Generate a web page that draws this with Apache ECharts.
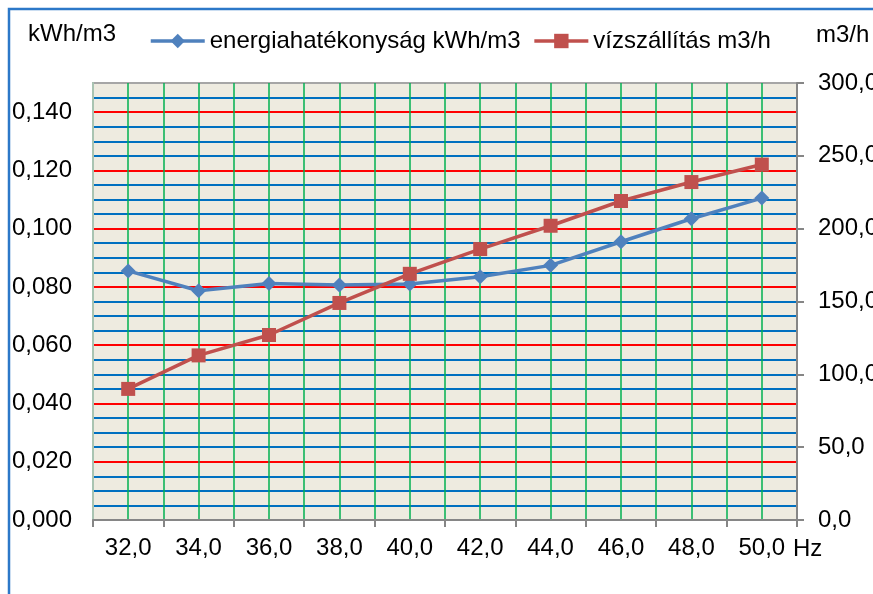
<!DOCTYPE html>
<html>
<head>
<meta charset="utf-8">
<script src="https://cdn.jsdelivr.net/npm/echarts@6/dist/echarts.min.js"></script>
<style>
html,body{margin:0;padding:0;background:#fff;}
#chart{width:873px;height:594px;}
</style>
</head>
<body>
<div id="chart"></div>
<script>
const categories = ['32,0','34,0','36,0','38,0','40,0','42,0','44,0','46,0','48,0','50,0'];
const energyEff = [0.0855, 0.0787, 0.0812, 0.0807, 0.0810, 0.0835, 0.0874, 0.0955, 0.1034, 0.1105];
const waterFlow = [90, 113, 127, 149, 169, 186, 202, 219, 232, 244];
const seriesNames = ['energiahatékonyság kWh/m3', 'vízszállítás m3/h'];
const leftUnit = 'kWh/m3';
const rightUnit = 'm3/h';
const xUnit = 'Hz';

const FONT = "'Liberation Sans', Arial, sans-serif";
const FS = 24;

const chart = echarts.init(document.getElementById('chart'));
chart.setOption({
  animation: false,
  backgroundColor: '#ffffff',
  textStyle: { fontFamily: FONT },
  graphic: [
    { type: 'rect', shape: { x: 9, y: 9, width: 1000, height: 1000 },
      style: { fill: 'none', stroke: '#2C78C8', lineWidth: 2.5 }, z: 100 },
    { type: 'text', left: 28, top: 22,
      style: { text: leftUnit, fontSize: FS, fontFamily: FONT, fill: '#000' } },
    { type: 'text', left: 816, top: 23,
      style: { text: rightUnit, fontSize: FS, fontFamily: FONT, fill: '#000' } }
  ],
  legend: {
    left: 149, top: 29, padding: 0,
    itemWidth: 54, itemHeight: 18, itemGap: 12,
    lineStyle: { width: 3.5 },
    textStyle: { fontSize: FS, fontFamily: FONT, color: '#000' },
    data: seriesNames
  },
  grid: {
    left: 93, right: 76, top: 83, bottom: 74,
    containLabel: false, outerBoundsMode: 'none',
    show: true, backgroundColor: '#EEEBE0', borderColor: '#A6A6A6', borderWidth: 2
  },
  xAxis: [
    {
      type: 'category', data: categories, boundaryGap: true,
      name: xUnit, nameLocation: 'end', nameGap: -4,
      nameTextStyle: { fontSize: FS, fontFamily: FONT, color: '#000', verticalAlign: 'top', padding: [17, 0, 0, 0] },
      axisLine: { lineStyle: { color: '#868686', width: 2 } },
      axisTick: { show: true, length: 7, lineStyle: { color: '#868686', width: 2 } },
      axisLabel: { fontSize: FS, fontFamily: FONT, color: '#000', margin: 16 },
      splitLine: { show: false }
    },
    {
      type: 'value', min: 0, max: 20, interval: 1, position: 'top',
      axisLine: { show: false }, axisTick: { show: false }, axisLabel: { show: false },
      splitLine: { show: true, showMinLine: false, showMaxLine: false, lineStyle: { color: '#00B050', width: 1.5 } }
    }
  ],
  yAxis: [
    {
      type: 'value', min: 0, max: 0.15, interval: 0.02,
      axisLine: { show: true, lineStyle: { color: '#A9C4B2', width: 2 } },
      axisTick: { show: false },
      axisLabel: {
        fontSize: FS, fontFamily: FONT, color: '#000', margin: 21,
        formatter: function (v) { return v > 0.145 ? '' : v.toFixed(3).replace('.', ','); }
      },
      splitLine: { show: false }
    },
    {
      type: 'value', min: 0, max: 300, interval: 50, position: 'right',
      axisLine: { show: true, lineStyle: { color: '#868686', width: 2 } },
      axisTick: { show: true, length: 7, lineStyle: { color: '#868686', width: 2 } },
      axisLabel: {
        fontSize: FS, fontFamily: FONT, color: '#000', margin: 21,
        formatter: function (v) { return v.toFixed(1).replace('.', ','); }
      },
      splitLine: { show: false }
    },
    {
      type: 'value', min: 0, max: 30, interval: 1, position: 'left',
      axisLine: { show: false }, axisTick: { show: false }, axisLabel: { show: false },
      splitLine: { show: true, showMaxLine: false,
        lineStyle: { color: ['#FF0000', '#0070C0', '#0070C0', '#0070C0'], width: 2 } }
    }
  ],
  series: [
    {
      name: seriesNames[0], type: 'line', data: energyEff, yAxisIndex: 0, xAxisIndex: 0,
      symbol: 'diamond', symbolSize: 15,
      lineStyle: { color: '#4F81BD', width: 3.5 },
      itemStyle: { color: '#4F81BD' },
      z: 3
    },
    {
      name: seriesNames[1], type: 'line', data: waterFlow, yAxisIndex: 1, xAxisIndex: 0,
      symbol: 'rect', symbolSize: 14,
      lineStyle: { color: '#C0504D', width: 3.5 },
      itemStyle: { color: '#C0504D' },
      z: 3
    }
  ]
});
</script>
</body>
</html>
